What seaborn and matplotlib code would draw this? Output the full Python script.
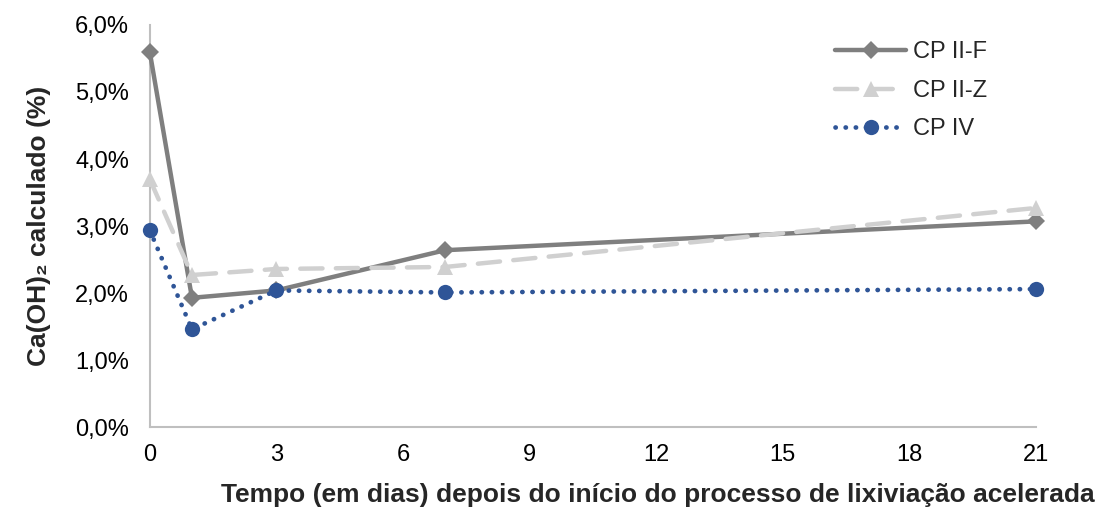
import matplotlib
matplotlib.use("Agg")
import matplotlib.pyplot as plt
from matplotlib.ticker import FuncFormatter, MultipleLocator
import seaborn as sns
import pandas as pd

# Days since the start of accelerated leaching
dias = [0, 1, 3, 7, 21]

# Calculated Ca(OH)2 content (%) for each cement type
cp_ii_f = [5.60, 1.93, 2.04, 2.64, 3.07]
cp_ii_z = [3.70, 2.27, 2.36, 2.39, 3.27]
cp_iv = [2.94, 1.46, 2.04, 2.01, 2.06]

series_names = ["CP II-F", "CP II-Z", "CP IV"]
x_ticks = [0, 3, 6, 9, 12, 15, 18, 21]

sns.set_theme(style="white")
plt.rcParams["font.family"] = ["Liberation Sans", "DejaVu Sans"]

df = pd.DataFrame({
    "dias": dias * 3,
    "valor": cp_ii_f + cp_ii_z + cp_iv,
    "serie": [series_names[0]] * 5 + [series_names[1]] * 5 + [series_names[2]] * 5,
})

styles = {
    "CP II-F": dict(color="#7f7f7f", linestyle="-", marker="D", markersize=9, lw=3.2),
    "CP II-Z": dict(color="#d0d0d0", linestyle=(0, (5, 3)), marker="^", markersize=11, lw=3.2),
    "CP IV": dict(color="#2f5597", linestyle=(0, (0.05, 2.1)), marker="o", markersize=11, lw=3.4),
}

fig = plt.figure(figsize=(11.01, 5.08), dpi=100)
ax = fig.add_axes([0.136, 0.159, 0.805, 0.792])

for name in series_names:
    st = styles[name]
    sub = df[df["serie"] == name]
    sns.lineplot(data=sub, x="dias", y="valor", ax=ax, label=name,
                 color=st["color"], linestyle=st["linestyle"], linewidth=st["lw"],
                 marker=st["marker"], markersize=st["markersize"],
                 markeredgewidth=0, markerfacecolor=st["color"],
                 dash_capstyle="round", solid_capstyle="round",
                 clip_on=False, zorder=3)

ax.set_xlim(0, 21)
ax.set_ylim(0, 6)
ax.set_xticks(x_ticks)
ax.yaxis.set_major_locator(MultipleLocator(1))
ax.yaxis.set_major_formatter(FuncFormatter(lambda v, p: f"{v:.1f}%".replace(".", ",")))

for side in ["top", "right"]:
    ax.spines[side].set_visible(False)
for side in ["left", "bottom"]:
    ax.spines[side].set_color("#bfbfbf")
    ax.spines[side].set_linewidth(1.5)

ax.tick_params(axis="both", length=0, labelsize=17, colors="#000000")
ax.tick_params(axis="y", pad=15)
ax.tick_params(axis="x", pad=12)

ax.set_xlabel("Tempo (em dias) depois do início do processo de lixiviação acelerada",
              fontsize=19, fontweight="bold", labelpad=12, x=0.573)
ax.set_ylabel("Ca(OH)₂ calculado (%)", fontsize=19, fontweight="bold", labelpad=17)

ax.legend(loc="upper right", bbox_to_anchor=(0.969, 1.012), frameon=False,
          fontsize=17, handlelength=3.0, labelspacing=0.7, handletextpad=0.3)

ax.grid(False)
fig.savefig("out.png", dpi=100)
